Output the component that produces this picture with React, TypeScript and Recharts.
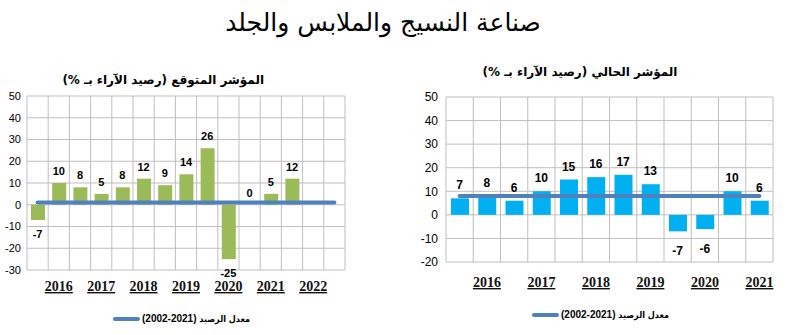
import { ComposedChart, Bar, Line, XAxis, YAxis, CartesianGrid, LabelList } from "recharts";

// Expected index (left panel), half-year steps, one year label every 2 bars
const expectedTicks = ["", "2016", "", "2017", "", "2018", "", "2019", "", "2020", "", "2021", "", "2022", ""];
const expectedValues = [-7, 10, 8, 5, 8, 12, 9, 14, 26, -25, 0, 5, 12, null, null];
const expectedAverage = [1, 1, 1, 1, 1, 1, 1, 1, 1, 1, 1, 1, 1, 1, 1];

// Current index (right panel)
const currentTicks = ["", "2016", "", "2017", "", "2018", "", "2019", "", "2020", "", "2021"];
const currentValues = [7, 8, 6, 10, 15, 16, 17, 13, -7, -6, 10, 6];
const currentAverage = [8, 8, 8, 8, 8, 8, 8, 8, 8, 8, 8, 8];

const expectedYTicks = [-30, -20, -10, 0, 10, 20, 30, 40, 50];
const currentYTicks = [-20, -10, 0, 10, 20, 30, 40, 50];

const AVG_COLOR = "#4F81BD";
const GRID = "#BFBFBF";
const ARABIC = "'DejaVu Sans', Arial, sans-serif";

function buildRows(ticks: string[], values: (number | null)[], avg: number[]) {
  return ticks.map((t, i) => ({ key: i, year: t, value: values[i], avg: avg[i] }));
}

const boundaryGrid = (count: number) => ({ offset }: any) => {
  const pts: number[] = [];
  for (let i = 0; i <= count; i++) pts.push(offset.left + (offset.width * i) / count);
  return pts;
};

const yearTick = (gap: number) => (props: any) => {
  const { x, y, payload } = props;
  if (!payload || !payload.value) return <g />;
  return (
    <text
      x={x}
      y={y + gap}
      textAnchor="middle"
      fontFamily="'Liberation Serif', 'Times New Roman', serif"
      fontWeight="bold"
      fontSize={14}
      fill="#111"
      style={{ textDecoration: "underline" }}
    >
      {payload.value}
    </text>
  );
};

// labels sit on an invisible line through the bar ends, so a 0 value still gets its label
const valueLabel = (upGap: number, downGap: number, size: number) => (props: any) => {
  const { x, y, value } = props;
  if (value === null || value === undefined || y == null) return null;
  const ty = value >= 0 ? y - upGap : y + downGap;
  return (
    <text x={x} y={ty} textAnchor="middle" fontFamily="Arial, sans-serif" fontWeight="bold" fontSize={size} fill="#000">
      {value}
    </text>
  );
};

function LegendItem({ left, top }: { left: number; top: number }) {
  return (
    <div style={{ position: "absolute", left, top, display: "flex", alignItems: "center", gap: 2 }}>
      <span style={{ display: "inline-block", width: 27, height: 4, borderRadius: 2, background: AVG_COLOR }} />
      <span style={{ fontFamily: "'DejaVu Sans Condensed', 'DejaVu Sans', sans-serif", fontWeight: "bold", fontSize: 9, direction: "rtl", color: "#000", whiteSpace: "nowrap" }}>
        معدل الرصيد{" "}
        <span dir="ltr" style={{ unicodeBidi: "isolate", fontFamily: "Arial, sans-serif", fontSize: 10 }}>
          (2002-2021)
        </span>
      </span>
    </div>
  );
}

export default function App() {
  const expectedRows = buildRows(expectedTicks, expectedValues, expectedAverage);
  const currentRows = buildRows(currentTicks, currentValues, currentAverage);

  return (
    <div style={{ position: "absolute", left: 0, top: 0, width: 788, height: 335, background: "#fff", overflow: "hidden" }}>
      <div style={{ position: "absolute", left: 183, top: 8, width: 400, textAlign: "center", fontFamily: ARABIC, fontSize: 25, direction: "rtl", whiteSpace: "nowrap" }}>
        صناعة النسيج والملابس والجلد
      </div>

      <div style={{ position: "absolute", left: 64, top: 73, width: 200, textAlign: "center", fontFamily: ARABIC, fontWeight: "bold", fontSize: 12, direction: "rtl", whiteSpace: "nowrap" }}>
        المؤشر المتوقع (رصيد الآراء بـ %)
      </div>
      <div style={{ position: "absolute", left: 480, top: 65, width: 200, textAlign: "center", fontFamily: ARABIC, fontWeight: "bold", fontSize: 12, direction: "rtl", whiteSpace: "nowrap" }}>
        المؤشر الحالي (رصيد الآراء بـ %)
      </div>

      <div style={{ position: "absolute", left: 0, top: 60 }}>
        <ComposedChart width={390} height={275} data={expectedRows} margin={{ top: 36, right: 45, bottom: 35, left: 0 }}>
          <CartesianGrid stroke={GRID} verticalCoordinatesGenerator={boundaryGrid(expectedRows.length)} />
          <XAxis dataKey="year" interval={0} axisLine={false} tickLine={false} tickSize={0} tickMargin={0} height={30} tick={yearTick(21)} />
          <YAxis
            domain={[-30, 50]}
            ticks={expectedYTicks}
            interval={0}
            width={27}
            axisLine={false}
            tickLine={false}
            tickSize={4}
            tickMargin={2}
            tick={{ fontSize: 11, fill: "#000", fontFamily: "Arial, sans-serif" }}
          />
          <Bar dataKey="value" fill="#9BBB59" barSize={14} isAnimationActive={false} />
          <Line dataKey="avg" stroke={AVG_COLOR} strokeWidth={4} strokeLinecap="round" dot={false} activeDot={false} isAnimationActive={false} />
          <Line dataKey="value" stroke="none" dot={false} activeDot={false} isAnimationActive={false}>
            <LabelList dataKey="value" content={valueLabel(8, 18, 11)} />
          </Line>
        </ComposedChart>
      </div>

      <div style={{ position: "absolute", left: 400, top: 60 }}>
        <ComposedChart width={388} height={275} data={currentRows} margin={{ top: 37, right: 15, bottom: 43, left: 0 }}>
          <CartesianGrid stroke={GRID} verticalCoordinatesGenerator={boundaryGrid(currentRows.length)} />
          <XAxis dataKey="year" interval={0} axisLine={false} tickLine={false} tickSize={0} tickMargin={0} height={30} tick={yearTick(25)} />
          <YAxis
            domain={[-20, 50]}
            ticks={currentYTicks}
            interval={0}
            width={46}
            axisLine={false}
            tickLine={false}
            tick={{ fontSize: 12, fill: "#000", fontFamily: "Arial, sans-serif" }}
          />
          <Bar dataKey="value" fill="#00B0F0" barSize={18} isAnimationActive={false} />
          <Line dataKey="avg" stroke={AVG_COLOR} strokeWidth={4} strokeLinecap="round" dot={false} activeDot={false} isAnimationActive={false} />
          <Line dataKey="value" stroke="none" dot={false} activeDot={false} isAnimationActive={false}>
            <LabelList dataKey="value" content={valueLabel(9, 24, 12)} />
          </Line>
        </ComposedChart>
      </div>

      <LegendItem left={113} top={313} />
      <LegendItem left={532} top={309} />
    </div>
  );
}
